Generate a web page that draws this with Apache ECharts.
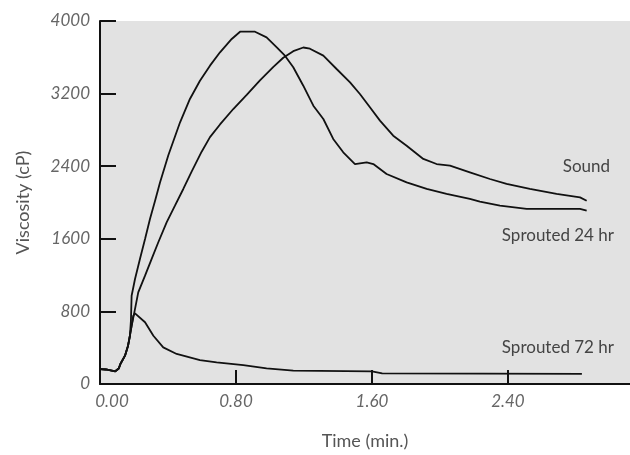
<!DOCTYPE html>
<html>
<head>
<meta charset="utf-8">
<script src="https://cdn.jsdelivr.net/npm/echarts@6/dist/echarts.min.js"></script>
<style>
html,body{margin:0;padding:0;background:#fff;}
#c{width:630px;height:455px;}
</style>
</head>
<body>
<div id="c"></div>
<script>
// Time (min.) and Viscosity (cP)
const sound = [
  [0,165],[0.035,160],[0.045,140],[0.09,140],[0.11,170],[0.12,220],[0.147,312],[0.165,422],
  [0.176,532],[0.186,642],[0.2,770],[0.225,1010],[0.265,1194],[0.304,1378],[0.343,1562],
  [0.392,1782],[0.441,1965],[0.49,2149],[0.539,2340],[0.598,2560],[0.647,2720],[0.706,2860],
  [0.784,3030],[0.863,3185],[0.941,3345],[1.02,3495],[1.078,3595],
  [1.137,3668],[1.196,3708],[1.235,3695],[1.314,3618],[1.392,3471],[1.471,3324],[1.529,3196],
  [1.588,3049],[1.647,2902],[1.725,2736],[1.804,2626],[1.902,2480],[1.98,2424],[2.059,2406],
  [2.176,2333],[2.294,2259],[2.392,2204],[2.529,2149],[2.686,2094],[2.824,2057],[2.863,2020]
];
const sprouted24 = [
  [0,165],[0.035,160],[0.045,140],[0.09,140],[0.11,170],[0.12,220],[0.147,312],[0.165,422],
  [0.176,532],[0.182,700],[0.186,973],[0.206,1157],[0.235,1378],[0.265,1598],[0.294,1818],
  [0.324,2020],[0.353,2220],[0.402,2520],[0.471,2884],[0.529,3141],[0.588,3342],
  [0.647,3508],[0.706,3655],[0.775,3802],[0.824,3882],[0.912,3882],
  [0.98,3820],[1.04,3710],[1.088,3618],[1.137,3490],[1.196,3287],[1.255,3067],[1.314,2920],
  [1.372,2700],[1.431,2553],[1.5,2424],[1.569,2443],[1.608,2424],[1.686,2314],[1.804,2222],
  [1.922,2149],[2.039,2094],[2.176,2039],[2.235,2009],[2.353,1965],[2.51,1929],[2.824,1929],
  [2.863,1910]
];
const sprouted72 = [
  [0,165],[0.035,160],[0.045,140],[0.09,140],[0.11,170],[0.12,220],[0.147,312],[0.165,422],
  [0.176,532],[0.186,642],[0.196,752],[0.206,779],[0.265,680],[0.314,532],[0.372,404],
  [0.451,331],[0.588,264],[0.686,239],[0.843,209],[0.98,173],[1.137,147],[1.6,140],
  [1.66,118],[2.835,112]
];
const seriesNames = ['Sound','Sprouted 24 hr','Sprouted 72 hr'];
const xTicks = [0, 0.8, 1.6, 2.4];
const yTicks = [0, 800, 1600, 2400, 3200, 4000];

const chart = echarts.init(document.getElementById('c'), null, {renderer:'canvas'});
const lab = {fontFamily:'Lato', fontStyle:'italic', fontSize:17, color:'#666'};
const lineStyle = {color:'#111', width:1.8};
chart.setOption({
  animation:false,
  backgroundColor:'#fff',
  grid:{left:100, top:21, right:0, bottom:70, show:true, backgroundColor:'#e2e2e2', borderWidth:0},
  xAxis:{
    type:'value', min:xTicks[0], max:3.118, interval:xTicks[1]-xTicks[0],
    name:'Time (min.)', nameLocation:'middle', nameGap:48,
    nameTextStyle:{fontFamily:'Lato', fontSize:18, color:'#555'},
    axisLine:{lineStyle:{color:'#111', width:2}},
    axisTick:{inside:true, length:14, lineStyle:{color:'#111', width:2}},
    axisLabel:Object.assign({margin:9, showMaxLabel:false,
      formatter:v=> v===0 ? '{first|'+v.toFixed(2)+'}' : v.toFixed(2),
      rich:{first:{fontFamily:'Lato', fontStyle:'italic', fontSize:17, color:'#666', padding:[0,0,0,24]}}
    }, lab),
    splitLine:{show:false}
  },
  yAxis:{
    type:'value', min:yTicks[0], max:yTicks[yTicks.length-1], interval:yTicks[1]-yTicks[0],
    name:'Viscosity (cP)', nameLocation:'middle', nameGap:68,
    nameTextStyle:{fontFamily:'Lato', fontSize:18, color:'#555'},
    axisLine:{show:true, lineStyle:{color:'#111', width:2}},
    axisTick:{show:true, inside:true, length:16, lineStyle:{color:'#111', width:2}},
    axisLabel:Object.assign({margin:10, formatter:v=>String(v)}, lab),
    splitLine:{show:false}
  },
  series:[
    {name:seriesNames[0], type:'line', data:sound, showSymbol:false, symbol:'none', lineStyle:lineStyle},
    {name:seriesNames[1], type:'line', data:sprouted24, showSymbol:false, symbol:'none', lineStyle:lineStyle},
    {name:seriesNames[2], type:'line', data:sprouted72, showSymbol:false, symbol:'none', lineStyle:lineStyle}
  ],
  graphic:[
    {type:'text', right:20, top:158, style:{text:seriesNames[0], font:'17px Lato', fill:'#444'}},
    {type:'text', right:16, top:227, style:{text:seriesNames[1], font:'17px Lato', fill:'#444'}},
    {type:'text', right:16, top:339, style:{text:seriesNames[2], font:'17px Lato', fill:'#444'}}
  ]
});
</script>
</body>
</html>
